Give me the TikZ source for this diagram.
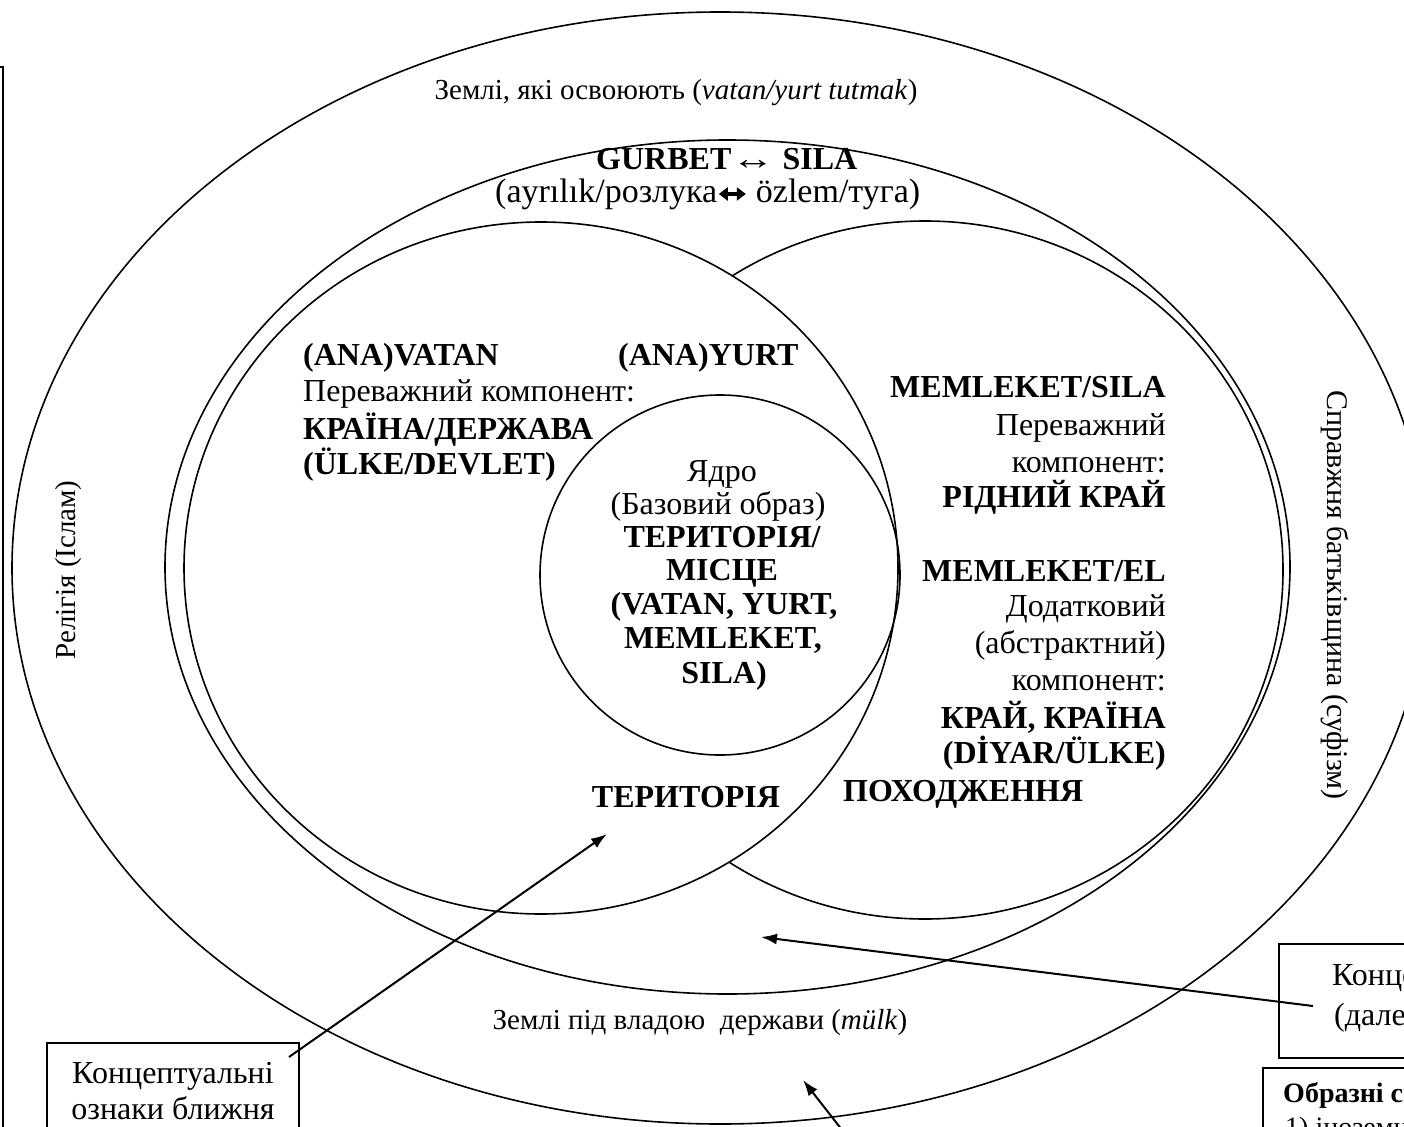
\documentclass[tikz,border=0pt]{standalone}
\usepackage{fontspec}
\setmainfont{Liberation Serif}
\usetikzlibrary{arrows.meta}
\newcommand\thickarr{\raisebox{1.5pt}{\tikz\draw[line width=3.2pt,{Triangle[length=9pt,width=13pt]}-{Triangle[length=9pt,width=13pt]}] (0pt,0pt) -- (27pt,0pt);}}
\tikzset{
  ring/.style={draw, line width=1.6pt},
  reg/.style={font=\fontsize{32}{36}\selectfont, inner sep=0pt},
  regs/.style={font=\fontsize{29}{34}\selectfont, inner sep=0pt},
  bld/.style={font=\fontsize{32}{36}\selectfont\bfseries, inner sep=0pt},
  lbox/.style={draw, line width=1.6pt, inner sep=0pt},
  ptr/.style={line width=2pt, -{Latex[length=16pt,width=11pt]}},
}
\begin{document}
\begin{tikzpicture}[x=1pt,y=-1pt]
\useasboundingbox (0,0) rectangle (1404,1126);
\clip (0,0) rectangle (1404,1126);
\fill[white] (0,0) rectangle (1404,1126);
% left frame (mostly outside)
\draw[lbox] (-300,67) rectangle (3,1300);
% rings
\draw[ring] (720,568) ellipse [x radius=708pt, y radius=556pt];
\draw[ring] (727.5,567) ellipse [x radius=562.5pt, y radius=427pt];
\draw[ring] (925,570) ellipse [x radius=358pt, y radius=349pt];
\filldraw[ring, fill=white] (541,568) ellipse [x radius=357pt, y radius=346pt];
\draw[ring] (720,575) circle [radius=180pt];
% top texts
\node[regs, anchor=base] (osv) at (676,100) {Землі, які освоюють (\textit{vatan/yurt tutmak})};
\node[bld, anchor=base west] (gurbet) at (596,170) {GURBET{\mdseries\scalebox{1.35}[1]{↔}} SILA};
\node[font=\fontsize{34}{38}\selectfont, inner sep=0pt, anchor=base west] (ayr) at (495,202) {(ayrılık/розлука\thickarr\ özlem/туга)};
% left group
\node[bld, anchor=base west] (anavatan) at (303,365) {(ANA)VATAN};
\node[bld, anchor=base west] (anayurt) at (618,365) {(ANA)YURT};
\node[reg, anchor=base west] (perev1) at (303,401) {Переважний компонент:};
\node[bld, anchor=base west] (kraina) at (303,439) {КРАЇНА/ДЕРЖАВА};
\node[bld, anchor=base west] (ulke) at (303,474) {(ÜLKE/DEVLET)};
% core
\node[reg, anchor=base] (yadro) at (722,481) {Ядро};
\node[reg, anchor=base] (bazov) at (718,514) {(Базовий образ)};
\node[bld, anchor=base] (terr1) at (722,547) {ТЕРИТОРІЯ/};
\node[bld, anchor=base] (misce) at (722,580) {МІСЦЕ};
\node[bld, anchor=base] (vy) at (724,614) {(VATAN, YURT,};
\node[bld, anchor=base] (memk) at (723,648) {MEMLEKET,};
\node[bld, anchor=base] (sila) at (724,683) {SILA)};
% right column
\node[bld, anchor=base east] (msila) at (1166,397) {MEMLEKET/SILA};
\node[reg, anchor=base east] (perev2) at (1166,435) {Переважний};
\node[reg, anchor=base east] (komp1) at (1166,472) {компонент:};
\node[bld, anchor=base east] (ridn) at (1166,507) {РІДНИЙ КРАЙ};
\node[bld, anchor=base east] (mel) at (1166,581) {MEMLEKET/EL};
\node[reg, anchor=base east] (dod) at (1166,616) {Додатковий};
\node[reg, anchor=base east] (abstr) at (1166,653) {(абстрактний)};
\node[reg, anchor=base east] (komp2) at (1166,690) {компонент:};
\node[bld, anchor=base east] (krai) at (1166,728) {КРАЙ, КРАЇНА};
\node[bld, anchor=base east] (diyar) at (1166,763) {(DİYAR/ÜLKE)};
\node[bld, anchor=base west] (pohod) at (843,801) {ПОХОДЖЕННЯ};
\node[bld, anchor=base] (terr2) at (686,807) {ТЕРИТОРІЯ};
\node[regs, anchor=base] (mulk) at (700,1029) {Землі під владою~ держави (\textit{mülk})};
% rotated
\node[regs, rotate=90] (relig) at (69,570) {Релігія (Іслам)};
\node[font=\fontsize{30}{34}\selectfont, inner sep=0pt, rotate=-90] (sufi) at (1335,595) {Справжня батьківщина (суфізм)};
% boxes
\node[lbox, anchor=north west, minimum width=252pt, minimum height=120pt] (boxL) at (46,1042) {};
\node[reg, anchor=base] (kl1) at (173,1083) {Концептуальні};
\node[reg, anchor=base] (kl2) at (173,1119) {ознаки ближня};
\node[lbox, anchor=north west, minimum width=340pt, minimum height=114pt] (boxR) at (1278,943) {};
\node[reg, anchor=base west] (kr1) at (1332,985) {Концептуальні};
\node[reg, anchor=base west] (kr2) at (1334,1025) {(далекої)};
\node[lbox, anchor=north west, minimum width=340pt, minimum height=120pt] (boxO) at (1262,1067) {};
\node[font=\fontsize{28}{32}\selectfont\bfseries, inner sep=0pt, anchor=base west] (obr1) at (1283,1102) {Образні символи:};
\node[font=\fontsize{28}{32}\selectfont, inner sep=0pt, anchor=base west] (obr2) at (1285,1136) {1) іноземні землі};
% arrows
\coordinate (a1s) at (289,1057); \coordinate (a1e) at (607,834);
\coordinate (a2s) at (1313,1006); \coordinate (a2e) at (761,937);
\coordinate (a3s) at (853,1144); \coordinate (a3e) at (803,1080);
\draw[ptr] (a1s) -- (a1e);
\draw[ptr] (a2s) -- (a2e);
\draw[ptr] (a3s) -- (a3e);
\end{tikzpicture}
\end{document}
